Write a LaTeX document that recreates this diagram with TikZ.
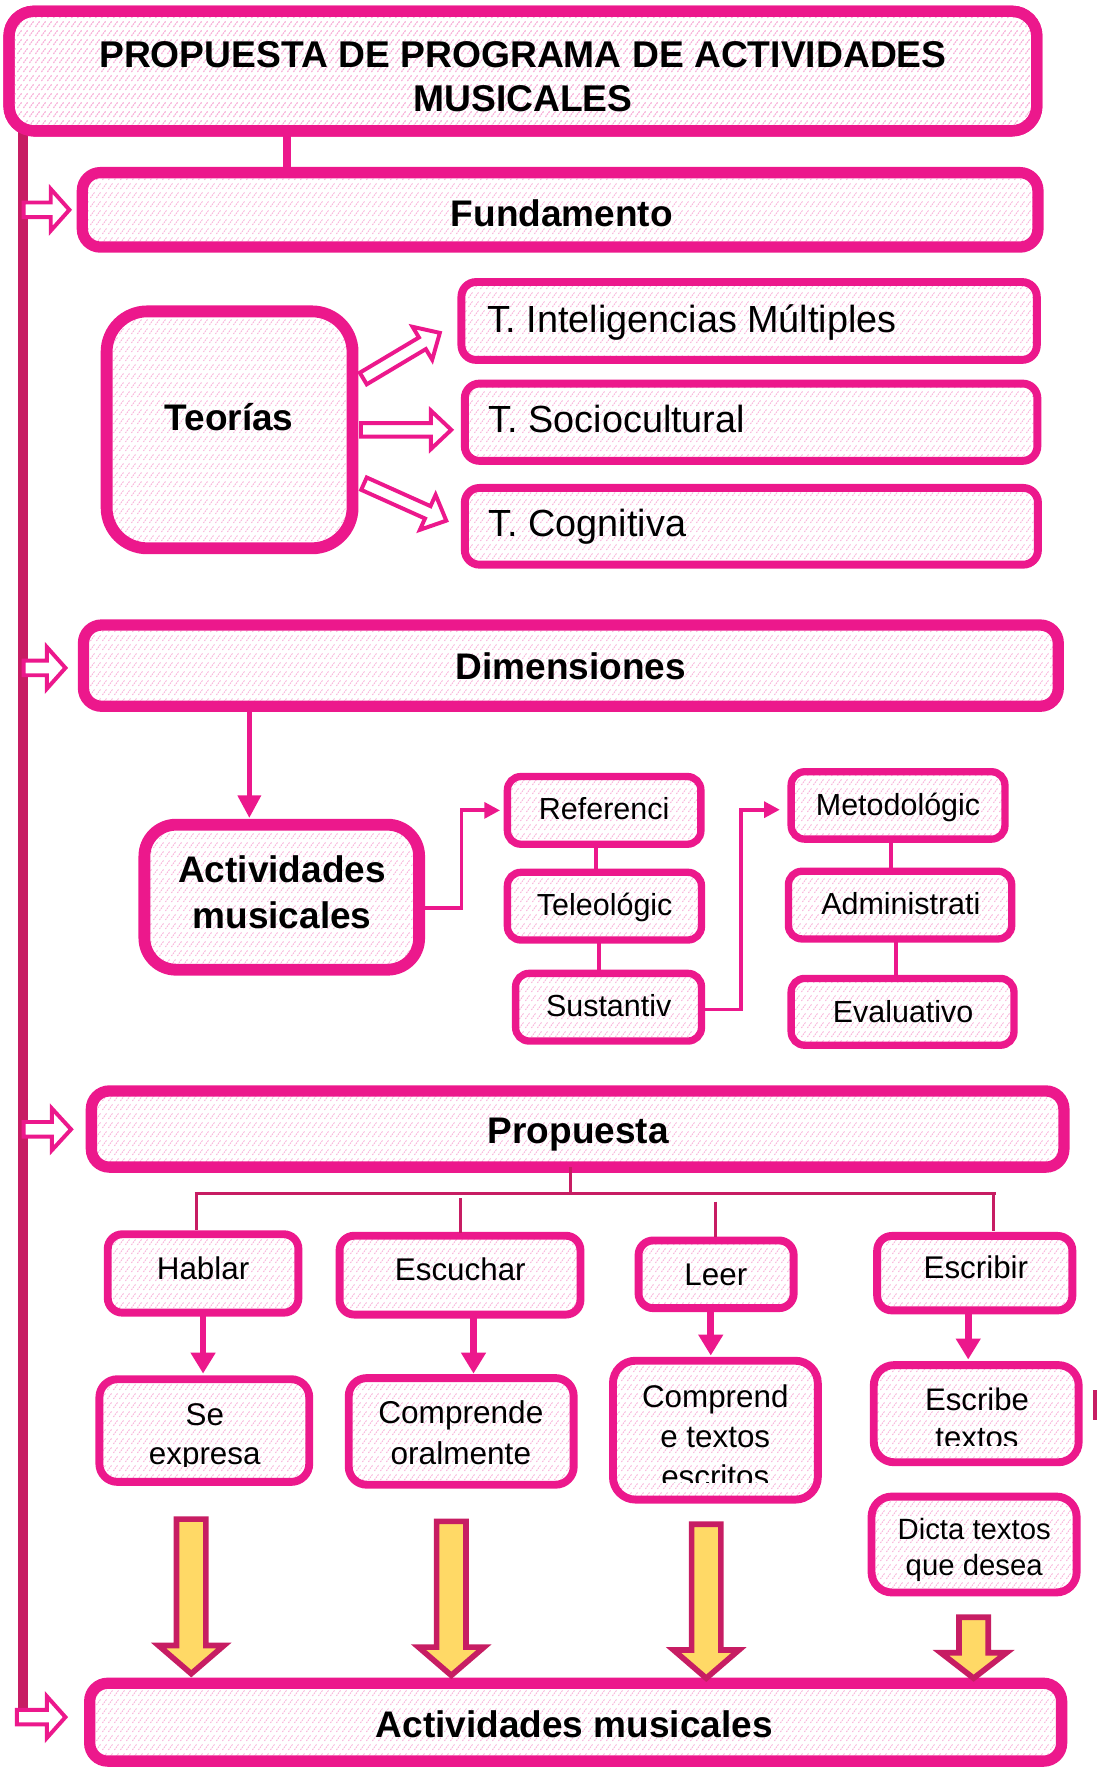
\documentclass[tikz,border=0pt]{standalone}
\usepackage{fontspec}
\setmainfont{Liberation Sans}
\usetikzlibrary{arrows.meta,calc,patterns.meta}

\definecolor{pk}{HTML}{EC188C}
\definecolor{crim}{HTML}{C71D63}
\definecolor{hatchc}{HTML}{F8B4DA}
\definecolor{gold}{HTML}{FFD966}

\pgfdeclarepattern{
  name=dashhatch,
  type=uncolored,
  bottom left={\pgfpoint{0pt}{0pt}},
  top right={\pgfpoint{5pt}{8pt}},
  tile size={\pgfpoint{5pt}{8pt}},
  code={
    \pgfsetlinewidth{0.9pt}
    \pgfsetdash{{1.6pt}{0.9pt}}{0pt}
    \pgfpathmoveto{\pgfpoint{0.4pt}{1pt}}
    \pgfpathlineto{\pgfpoint{4.4pt}{6.6pt}}
    \pgfusepath{stroke}
  }
}

\newcommand{\fsz}[2]{\fontsize{#1}{#2}\selectfont}

\newcommand{\hollowarrow}[4]{% x0, xhead, xtip, y
  \draw[hollow] (#1,#4-6.5) -- (#2,#4-6.5) -- (#2,#4-18.5) -- (#3,#4)
    -- (#2,#4+18.5) -- (#2,#4+6.5) -- (#1,#4+6.5) -- cycle;}

\newcommand{\hollowrot}[4]{% x, y, angle, length
  \begin{scope}[shift={(#1,#2)}, rotate=#3]
    \draw[hollow] (0,-6) -- (#4-18,-6) -- (#4-18,-17) -- (#4,0)
      -- (#4-18,17) -- (#4-18,6) -- (0,6) -- cycle;
  \end{scope}}

\newcommand{\yarrow}[4]{% xc, ytop, ybase, ytip
  \draw[yarr] (#1-13,#2) -- (#1+13,#2) -- (#1+13,#3) -- (#1+29,#3) -- (#1,#4)
    -- (#1-29,#3) -- (#1-13,#3) -- cycle;}

\tikzset{
  hbox/.style={draw=pk, pattern=dashhatch, pattern color=hatchc, inner sep=0pt, outer sep=0pt},
  bigbox/.style={hbox, line width=10pt, rounded corners=16pt},
  tbox/.style={hbox, line width=7pt, rounded corners=13pt},
  sbox/.style={hbox, line width=6.5pt, rounded corners=12pt},
  hollow/.style={draw=pk, fill=white, line width=3.5pt, line join=miter},
  yarr/.style={draw=crim, fill=gold, line width=5pt, line join=miter},
  bt/.style={inner sep=0pt, anchor=base, align=center, font=\bfseries\fsz{32.8}{41.4}},
  lt/.style={inner sep=0pt, anchor=base west, font=\fsz{33.5}{40}},
  st/.style={inner sep=0pt, anchor=base, align=center, font=\fsz{27}{34.5}},
  mt/.style={inner sep=0pt, anchor=base, align=center, font=\fsz{27.8}{34.5}},
  conn/.style={draw=pk, line width=3.5pt},
  tree/.style={draw=crim, line width=3pt},
  parr/.style={draw=pk, line width=6pt, -{Triangle[length=18.5pt,width=21pt]}},
}

\begin{document}
\begin{tikzpicture}[x=1pt,y=-1pt]
\useasboundingbox (0,0) rectangle (972,1568);

% ---- boxes
\node[bigbox, rounded corners=22pt, minimum width=911pt, minimum height=106pt] (title) at (463.5,63) {};

% left vertical line (behind boxes)
\coordinate (lx) at (20.5,0);
\node[bigbox, minimum width=861.5pt, minimum height=69pt] (bot) at (510.25,1526.5) {};
\draw[crim, line width=9pt] ($(lx |- title.south)+(0,-4)$) -- ($(lx |- bot.west)+(0,-4)$);
\node[bigbox, rounded corners=22pt, minimum width=911pt, minimum height=106pt] at (463.5,63) {};

\node[bigbox, minimum width=847pt, minimum height=66pt] (fund) at (496.5,186) {};
\node[bigbox, line width=10.5pt, rounded corners=36pt, minimum width=218pt, minimum height=210pt] (teor) at (203.5,381) {};
\node[tbox, minimum width=510pt, minimum height=69pt] (tint) at (664,284.5) {};
\node[tbox, minimum width=507.5pt, minimum height=68.5pt] (tsoc) at (665.75,374.25) {};
\node[tbox, minimum width=508pt, minimum height=68pt] (tcog) at (666,466.5) {};
\node[bigbox, minimum width=864pt, minimum height=72pt] (dim) at (506,590) {};
\node[bigbox, line width=10.5pt, rounded corners=28pt, minimum width=243.5pt, minimum height=128.5pt] (act) at (249.75,795.25) {};
\node[sbox, minimum width=171.5pt, minimum height=60pt] (ref) at (535.5,718.3) {};
\node[sbox, minimum width=172pt, minimum height=60pt] (tel) at (535.75,803.2) {};
\node[sbox, minimum width=164.75pt, minimum height=60pt] (sus) at (539.4,892.75) {};
\node[sbox, minimum width=189.5pt, minimum height=59.75pt] (met) at (796,713.9) {};
\node[sbox, minimum width=197.9pt, minimum height=60pt] (adm) at (797.8,802.25) {};
\node[sbox, minimum width=197.5pt, minimum height=59.2pt] (eva) at (800,896.85) {};
\node[bigbox, minimum width=862pt, minimum height=67.5pt] (prop) at (512,1000.75) {};
\node[tbox, minimum width=169pt, minimum height=69.5pt] (hab) at (180,1128.75) {};
\node[tbox, minimum width=213.5pt, minimum height=69.9pt] (esc) at (407.75,1130.25) {};
\node[tbox, minimum width=137.5pt, minimum height=60pt] (leer) at (634.75,1129.5) {};
\node[tbox, minimum width=173pt, minimum height=66pt] (escr) at (864,1128.5) {};
\node[tbox, rounded corners=16pt, minimum width=186pt, minimum height=91pt] (sexp) at (181.1,1268) {};
\node[tbox, rounded corners=16pt, minimum width=199.4pt, minimum height=94.5pt] (comp) at (408.8,1268.75) {};
\node[tbox, rounded corners=20pt, minimum width=181.6pt, minimum height=123.1pt] (compe) at (634.1,1267.65) {};
\node[tbox, rounded corners=18pt, minimum width=181.6pt, minimum height=86.1pt] (escb) at (865.3,1253.05) {};
\node[tbox, rounded corners=18pt, minimum width=181.8pt, minimum height=85pt] (dicta) at (863.4,1369) {};

% ---- connectors
\coordinate (c1) at (254,0);
\draw[pk, line width=7pt] (c1 |- title.south) -- (c1 |- fund.north);

\coordinate (c2) at (221,0);
\draw[pk, line width=4.4pt, -{Triangle[length=20pt,width=20pt]}] (c2 |- dim.south) -- ($(c2 |- act.north)+(0,-6)$);

\draw[pk, line width=3.4pt, -{Triangle[length=14pt,width=14pt]}] ($(act.east)+(0,9.5)$) -- ++(37.5,0) |- ($(ref.west)+(-6.5,0)$);
\draw[pk, line width=3.4pt, -{Triangle[length=14pt,width=14pt]}] ($(sus.east)+(0,2)$) -- ++(35.25,0) |- ($(met.west)+(-10,3.8)$);

\coordinate (c3) at (528.5,0);
\coordinate (c4) at (531,0);
\coordinate (c5) at (790,0);
\coordinate (c6) at (794.5,0);
\draw[conn] (c3 |- ref.south) -- (c3 |- tel.north);
\draw[conn] (c4 |- tel.south) -- (c4 |- sus.north);
\draw[conn] (c5 |- met.south) -- (c5 |- adm.north);
\draw[conn] (c6 |- adm.south) -- (c6 |- eva.north);

% tree under Propuesta
\coordinate (tj) at (505.5,1058);
\coordinate (tl) at (174,1058);
\coordinate (tr) at (881.5,1058);
\coordinate (td2) at (408,1062);
\coordinate (td3) at (634,1065);
\coordinate (td4) at (880.5,1058);
\draw[tree] (prop.south -| tj) -- (tj);
\draw[tree] ($(tl)+(-1.5,0)$) -- ($(tr)+(1.5,0)$);
\draw[tree] (tl) -- ($(tl |- hab.north)+(0,-4)$);
\draw[tree] (td2) -- ($(td2 |- esc.north)+(0,-2)$);
\draw[tree] (td3) -- ($(td3 |- leer.north)+(0,-3)$);
\draw[tree] (td4) -- ($(td4 |- escr.north)+(0,-4)$);

% pink arrows down
\coordinate (a1) at (180,0);
\coordinate (a2) at (419.7,0);
\coordinate (a3) at (630,0);
\coordinate (a4) at (858.2,0);
\draw[parr] (a1 |- hab.south) -- ($(a1 |- sexp.north)+(0,-5)$);
\draw[parr] (a2 |- esc.south) -- ($(a2 |- comp.north)+(0,-4)$);
\draw[parr] (a3 |- leer.south) -- ($(a3 |- compe.north)+(0,-4.6)$);
\draw[parr] (a4 |- escr.south) -- ($(a4 |- escb.north)+(0,-5)$);

% yellow block arrows
\yarrow{169.5}{1346.5}{1458.5}{1483.5}
\yarrow{400}{1348.5}{1460}{1485}
\yarrow{626}{1351}{1462.5}{1487.5}
\yarrow{863}{1433.5}{1465}{1487.5}

% hollow arrows from the left line
\hollowarrow{21}{45}{61.5}{186}
\hollowarrow{21}{41.5}{58}{592}
\hollowarrow{21}{46}{63}{1001}
\hollowarrow{15}{41.5}{58}{1522}

% hollow arrows from Teorias
\hollowrot{322}{335.5}{30.8}{79}
\hollowrot{320}{381}{0}{80}
\hollowrot{322.6}{428.7}{-24.2}{80}

% stub at right edge
\fill[crim] (968.5,1232) rectangle (972,1259);

% ---- texts (multi-line nodes: base anchor = last line's baseline)
\node[bt, font=\bfseries\fsz{33}{38.8}] (titlet) at (463.5,99) {PROPUESTA DE PROGRAMA DE ACTIVIDADES\\MUSICALES};
\node[bt] (fundt) at (498,200.8) {Fundamento};
\node[bt] (teort) at (203,381.6) {Teorías};
\node[lt] (tintt) at (431.5,295) {T. Inteligencias Múltiples};
\node[lt] (tsoct) at (433,383.4) {T. Sociocultural};
\node[lt] (tcogt) at (433,475.5) {T. Cognitiva};
\node[bt] (dimt) at (506,602.7) {Dimensiones};
\node[bt] (actt) at (250,823.4) {Actividades\\musicales};
\node[st] (reft) at (535.5,726) {Referenci};
\node[st] (telt) at (536,811.6) {Teleológic};
\node[st] (sust) at (539.5,901.4) {Sustantiv};
\node[st] (mett) at (796,723) {Metodológic};
\node[st] (admt) at (798.5,810.7) {Administrati};
\node[st] (evat) at (800.5,906.7) {Evaluativo};
\node[bt] (propt) at (512.5,1013.7) {Propuesta};
\node[mt] (habt) at (180,1134.2) {Hablar};
\node[mt] (esct) at (408,1134.7) {Escuchar};
\node[mt] (leert) at (634.5,1139.5) {Leer};
\node[mt] (escrt) at (865,1133.5) {Escribir};
\begin{scope}
  \clip (88,1222) rectangle (275,1299.8);
  \node[mt, font=\fsz{27.8}{34.5}] (sexpt) at (181.5,1298) {Se\\expresa};
\end{scope}
\node[mt, font=\fsz{28}{36.3}] (compt) at (408.5,1298) {Comprende\\oralmente};
\begin{scope}
  \clip (543,1206) rectangle (725,1313.7);
  \node[mt, font=\fsz{27.8}{35.5}] (compet) at (634,1318.8) {Comprend\\e textos\\escritos};
\end{scope}
\begin{scope}
  \clip (774,1210) rectangle (956,1281.3);
  \node[mt, font=\fsz{27.6}{33.5}] (escbt) at (866,1283.5) {Escribe\\textos};
\end{scope}
\node[mt, font=\fsz{26}{31.4}] (dictat) at (863.5,1396.4) {Dicta textos\\que desea};
\node[bt] (bott) at (509,1540.2) {Actividades musicales};
\end{tikzpicture}
\end{document}
